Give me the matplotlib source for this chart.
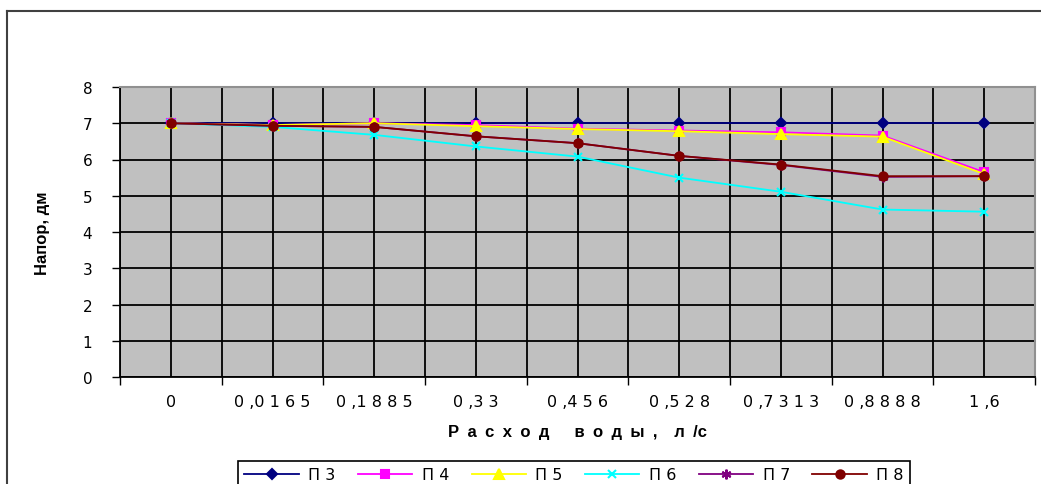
import numpy as np
import matplotlib
matplotlib.use('Agg')
import matplotlib.pyplot as plt
from matplotlib.lines import Line2D

plt.rcParams['font.family'] = ['Liberation Sans', 'DejaVu Sans']

# --- data ---
categories = ['0', '0 ,0 1 6 5', '0 ,1 8 8 5', '0 ,3 3', '0 ,4 5 6',
              '0 ,5 2 8', '0 ,7 3 1 3', '0 ,8 8 8 8', '1 ,6']
p3 = [7, 7, 7, 7, 7, 7, 7, 7, 7]
p4 = [7, 6.95, 7.0, 6.95, 6.85, 6.8, 6.75, 6.66, 5.65]
p5 = [7, 6.95, 7.0, 6.92, 6.84, 6.78, 6.7, 6.63, 5.6]
p6 = [7, 6.9, 6.68, 6.36, 6.08, 5.5, 5.11, 4.62, 4.56]
p7 = [7, 6.93, 6.9, 6.64, 6.45, 6.1, 5.85, 5.52, 5.54]
p8 = [7, 6.93, 6.9, 6.64, 6.45, 6.1, 5.86, 5.54, 5.54]

series = [('П 3', p3, '#000080', 'D', 5),
          ('П 4', p4, '#FF00FF', 's', 6),
          ('П 5', p5, '#FFFF00', '^', 7),
          ('П 6', p6, '#00FFFF', 'x', 6),
          ('П 7', p7, '#800080', (6, 2, 0), 7),
          ('П 8', p8, '#800000', 'o', 6)]

tick_font = dict(family=['DejaVu Sans'], size=11.5)

fig = plt.figure(figsize=(10.41, 4.85), dpi=100)
ax = fig.add_axes([120/1041, 1-378/485, 915/1041, 290/485])
ax.set_facecolor('#C0C0C0')

x = np.arange(len(categories))
for name, vals, col, mk, ms in series:
    ax.plot(x, vals, color=col, marker=mk, markersize=ms, linewidth=1.3,
            markeredgecolor=col, markeredgewidth=1.5, label=name, zorder=3)

ax.set_xlim(-0.5, len(categories) - 0.5)
ax.set_ylim(0, 8)
ax.set_yticks(range(9))
ax.set_xticks(np.arange(-0.5, len(categories), 1.0))
ax.set_xticklabels([])
ax.set_xticks(x, minor=True)
ax.set_xticklabels(categories, minor=True, fontdict=tick_font)
for t in ax.get_yticklabels():
    t.set_fontfamily(['DejaVu Sans'])
    t.set_fontsize(11)
ax.tick_params(axis='x', which='major', length=6, width=1, direction='out')
ax.tick_params(axis='x', which='minor', length=0, pad=12)
ax.tick_params(axis='y', length=6, width=1, direction='out', pad=14)

ax.grid(True, which='both', color='black', linewidth=1.3, zorder=1)
ax.set_axisbelow(True)
for s in ['left', 'bottom']:
    ax.spines[s].set_color('black')
    ax.spines[s].set_linewidth(1.3)
for s in ['top', 'right']:
    ax.spines[s].set_color('#909090')
    ax.spines[s].set_linewidth(1.5)

# letter-spaced axis title, as in the original
sp = '\u2002'
xlabel = sp.join('Расход') + sp * 3 + sp.join('воды') + sp + ',' + sp * 2 + 'л' + sp + '/с'
fig.text(577/1041, 1-432/485, xlabel, fontsize=12,
         fontweight='bold', ha='center', va='center')
fig.text(43/1041, 1-233/485, 'Напор, дм', fontsize=12, fontweight='bold',
         rotation=90, ha='center', va='center')

leg = fig.legend(loc='upper left', bbox_to_anchor=(238/1041, 1-462/485), ncol=6,
                 fancybox=False, edgecolor='black', framealpha=1,
                 prop=dict(family=['DejaVu Sans'], size=11.5),
                 handlelength=3.4, handletextpad=0.6, columnspacing=1.4,
                 borderpad=0.4, borderaxespad=0)
leg.get_frame().set_linewidth(1.2)

# outer chart frame
fig.add_artist(Line2D([7/1041, 7/1041], [0, 1-12/485], color='#404040', linewidth=1.5))
fig.add_artist(Line2D([7/1041, 1], [1-12/485, 1-12/485], color='#404040', linewidth=1.5))

fig.savefig('out.png', dpi=100)
